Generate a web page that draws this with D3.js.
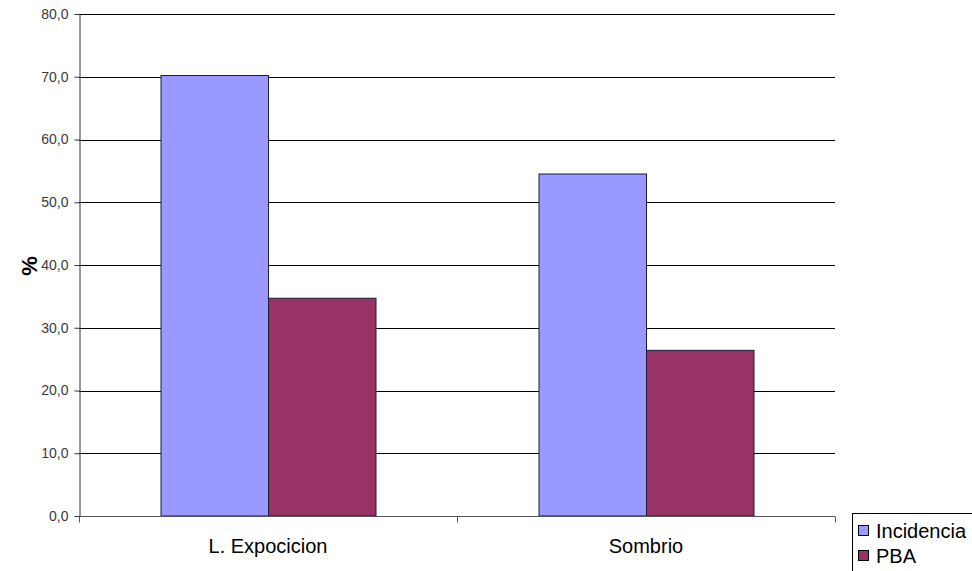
<!DOCTYPE html>
<html>
<head>
<meta charset="utf-8">
<script src="https://cdn.jsdelivr.net/npm/d3@7"></script>
<style>
  html, body { margin: 0; padding: 0; background: #fff; }
  svg { display: block; font-family: Arial, "Liberation Sans", sans-serif; }
</style>
</head>
<body>
<svg id="chart" width="972" height="571"></svg>
<script>
// Grouped bar chart: incidence vs PBA by exposure group
const categories = ["L. Expocicion", "Sombrio"];
const seriesNames = ["Incidencia", "PBA"];
const incidencia = [70.2, 54.5];
const pba = [34.7, 26.4];
const yTicks = [0, 10, 20, 30, 40, 50, 60, 70, 80];
const seriesColors = ["#9999ff", "#993366"];

const svg = d3.select("#chart");
const plotLeft = 79, plotRight = 835, plotTop = 14, plotBottom = 516;

const x0 = d3.scaleBand().domain(categories).range([plotLeft, plotRight]).padding(0);
const groupWidth = 215;
const x1 = d3.scaleBand().domain(seriesNames).range([0, groupWidth]).padding(0);
const y = d3.scaleLinear().domain([0, 80]).range([plotBottom, plotTop]);

const fmt = v => d3.format(".1f")(v).replace(".", ",");

// horizontal gridlines
svg.append("g")
  .selectAll("line")
  .data(yTicks.filter(t => t > 0))
  .join("line")
  .attr("x1", plotLeft).attr("x2", plotRight)
  .attr("y1", d => Math.round(y(d)) + 0.5).attr("y2", d => Math.round(y(d)) + 0.5)
  .attr("stroke", "#000").attr("stroke-width", 1);

// bars
const rows = categories.map((c, i) => ({ cat: c, values: [incidencia[i], pba[i]] }));
const groups = svg.append("g")
  .selectAll("g")
  .data(rows)
  .join("g")
  .attr("transform", d => `translate(${x0(d.cat) + (x0.bandwidth() - groupWidth) / 2},0)`);

groups.selectAll("rect")
  .data(d => d.values.map((v, j) => ({ key: seriesNames[j], v, j })))
  .join("rect")
  .attr("x", d => x1(d.key) + 0.5)
  .attr("y", d => y(d.v))
  .attr("width", x1.bandwidth())
  .attr("height", d => plotBottom - y(d.v))
  .attr("fill", d => seriesColors[d.j])
  .attr("stroke", "#1a1a3a")
  .attr("stroke-width", 1);

// y axis
const yAxis = svg.append("g")
  .attr("transform", `translate(${plotLeft + 0.5},0)`)
  .call(d3.axisLeft(y).tickValues(yTicks).tickFormat(fmt).tickSize(5).tickSizeOuter(0));
yAxis.select(".domain").attr("stroke", "#333");
yAxis.selectAll(".tick line").attr("stroke", "#333");
yAxis.selectAll(".tick text")
  .attr("font-size", 14).attr("fill", "#3a3a3a")
  .attr("font-family", "Arial, 'Liberation Sans', sans-serif")
  .attr("x", -11);

// x axis (category boundaries as ticks)
const xAxisG = svg.append("g").attr("transform", `translate(0,${plotBottom + 0.5})`);
xAxisG.append("line")
  .attr("x1", plotLeft).attr("x2", plotRight)
  .attr("stroke", "#555").attr("stroke-width", 1.2);
const bounds = categories.map(c => x0(c)).concat([x0(categories[categories.length - 1]) + x0.bandwidth()]);
xAxisG.selectAll("line.tick")
  .data(bounds)
  .join("line")
  .attr("class", "tick")
  .attr("x1", d => Math.round(d) + 0.5).attr("x2", d => Math.round(d) + 0.5)
  .attr("y1", 0).attr("y2", 6)
  .attr("stroke", "#555");
xAxisG.selectAll("text")
  .data(categories)
  .join("text")
  .attr("x", d => x0(d) + x0.bandwidth() / 2)
  .attr("y", 36)
  .attr("text-anchor", "middle")
  .attr("font-size", 20)
  .attr("fill", "#000")
  .text(d => d);

// y axis title
svg.append("text")
  .attr("transform", "translate(37,266) rotate(-90)")
  .attr("text-anchor", "middle")
  .attr("font-size", 22)
  .attr("font-weight", "bold")
  .attr("fill", "#000")
  .text("%");

// legend
const legend = svg.append("g").attr("transform", "translate(852,513)");
legend.append("rect")
  .attr("x", 0.5).attr("y", 0.5).attr("width", 130).attr("height", 70)
  .attr("fill", "#fff").attr("stroke", "#000");
seriesNames.forEach((name, i) => {
  legend.append("rect")
    .attr("x", 6.5).attr("y", 12.5 + i * 25).attr("width", 10).attr("height", 10)
    .attr("fill", seriesColors[i]).attr("stroke", "#000");
  legend.append("text")
    .attr("x", 24).attr("y", 24.5 + i * 25)
    .attr("font-size", 20).attr("fill", "#000")
    .text(name);
});
</script>
</body>
</html>
